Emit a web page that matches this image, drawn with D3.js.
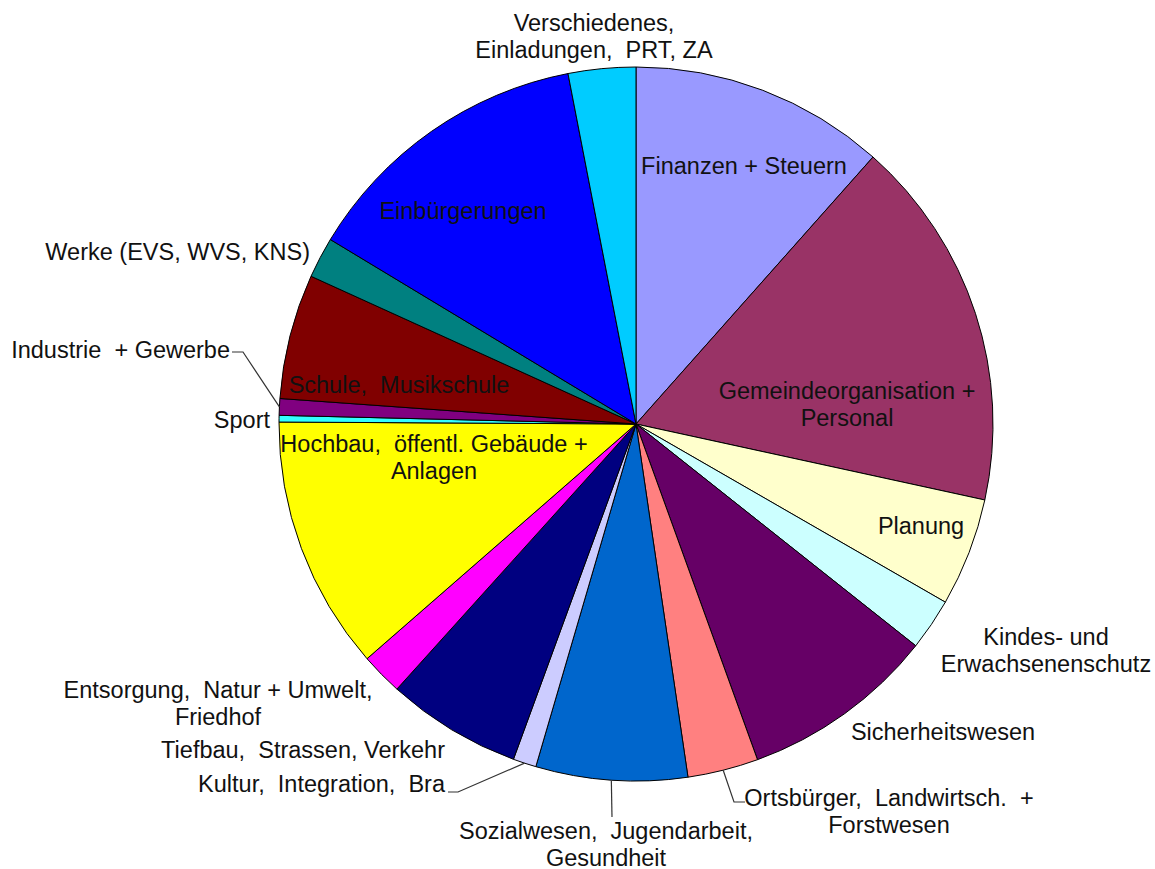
<!DOCTYPE html>
<html>
<head>
<meta charset="utf-8">
<script src="https://cdn.jsdelivr.net/npm/d3@7"></script>
<style>
  body { margin: 0; background: #fff; }
  text { font-family: "Liberation Sans", Arial, sans-serif; font-size: 23.5px; fill: #111; white-space: pre; }
</style>
</head>
<body>
<div id="container"></div>
<script>
// categories, clockwise from 12 o'clock
const categories = [
    "Finanzen + Steuern",
    "Gemeindeorganisation + Personal",
    "Planung",
    "Kindes- und Erwachsenenschutz",
    "Sicherheitswesen",
    "Ortsbürger, Landwirtsch. + Forstwesen",
    "Sozialwesen, Jugendarbeit, Gesundheit",
    "Kultur, Integration, Bra",
    "Tiefbau, Strassen, Verkehr",
    "Entsorgung, Natur + Umwelt, Friedhof",
    "Hochbau, öffentl. Gebäude + Anlagen",
    "Sport",
    "Industrie + Gewerbe",
    "Schule, Musikschule",
    "Werke (EVS, WVS, KNS)",
    "Einbürgerungen",
    "Verschiedenes, Einladungen, PRT, ZA"
];

// share in percent
const values = [11.55, 16.85, 4.9, 2.35, 8.8, 3.2, 6.85, 1.05, 6.1, 1.9, 11.5, 0.3, 0.75, 5.65, 1.85, 13.3, 3.05];

const colors = ["#9999ff", "#993366", "#ffffcc", "#ccffff", "#660066", "#ff8080", "#0066cc", "#ccccff",
    "#000080", "#ff00ff", "#ffff00", "#33ffff", "#800080", "#800000", "#008080", "#0000ff", "#00ccff"];

// label text lines
const labelLines = [
    ["Finanzen + Steuern"],
    ["Gemeindeorganisation +", "Personal"],
    ["Planung"],
    ["Kindes- und", "Erwachsenenschutz"],
    ["Sicherheitswesen"],
    ["Ortsbürger,  Landwirtsch.  +", "Forstwesen"],
    ["Sozialwesen,  Jugendarbeit,", "Gesundheit"],
    ["Kultur,  Integration,  Bra"],
    ["Tiefbau,  Strassen, Verkehr"],
    ["Entsorgung,  Natur + Umwelt,", "Friedhof"],
    ["Hochbau,  öffentl. Gebäude +", "Anlagen"],
    ["Sport"],
    ["Industrie  + Gewerbe"],
    ["Schule,  Musikschule"],
    ["Werke (EVS, WVS, KNS)"],
    ["Einbürgerungen"],
    ["Verschiedenes,", "Einladungen,  PRT, ZA"]
];

const width = 1155;
const height = 869;
const cx = 636;
const cy = 424;
const radius = 357;
const lineStep = 26.5;

// label layout: [x, y of first baseline, anchor, leader bend points]
const labelLayout = [
    [744, 174, "middle"],
    [847, 399, "middle"],
    [921, 534, "middle"],
    [1046, 645, "middle"],
    [943, 740, "middle"],
    [889, 806, "middle", [[734, 802], [745, 802]]],
    [606, 839, "middle", [[612, 817]]],
    [445, 792, "end", [[458, 792], [448, 792]]],
    [445, 758, "end"],
    [218, 698, "middle"],
    [434, 452, "middle"],
    [270, 428, "end"],
    [230, 358, "end", [[243, 352], [232, 352]]],
    [399, 393, "middle"],
    [310, 260, "end"],
    [463, 219, "middle"],
    [594, 31, "middle"]
];

const data = categories.map((c, i) => ({name: c, value: values[i], color: colors[i], lines: labelLines[i], layout: labelLayout[i]}));

const pie = d3.pie().sort(null).value(d => d.value);
const arc = d3.arc().innerRadius(0).outerRadius(radius);
const arcs = pie(data);

const svg = d3.create("svg")
    .attr("width", width)
    .attr("height", height)
    .attr("viewBox", [0, 0, width, height]);

const g = svg.append("g").attr("transform", `translate(${cx},${cy})`);

g.selectAll("path.slice")
    .data(arcs)
    .join("path")
    .attr("class", "slice")
    .attr("d", arc)
    .attr("fill", d => d.data.color)
    .attr("stroke", "#000")
    .attr("stroke-width", 1)
    .attr("stroke-linejoin", "round");

// leader lines from the rim of the slice to the label
arcs.filter(d => d.data.layout[3]).forEach(d => {
    const mid = (d.startAngle + d.endAngle) / 2;
    const start = [cx + radius * Math.sin(mid), cy - radius * Math.cos(mid)];
    const pts = [start].concat(d.data.layout[3]);
    svg.append("path")
        .attr("d", d3.line()(pts))
        .attr("fill", "none")
        .attr("stroke", "#333")
        .attr("stroke-width", 1.2);
});

const labels = svg.append("g");
arcs.forEach(d => {
    const [x, y, anchor] = d.data.layout;
    const t = labels.append("text")
        .attr("text-anchor", anchor)
        .attr("x", x)
        .attr("y", y);
    d.data.lines.forEach((line, i) => {
        t.append("tspan")
            .attr("x", x)
            .attr("y", y + i * lineStep)
            .text(line);
    });
});

document.getElementById("container").append(svg.node());
</script>
</body>
</html>
